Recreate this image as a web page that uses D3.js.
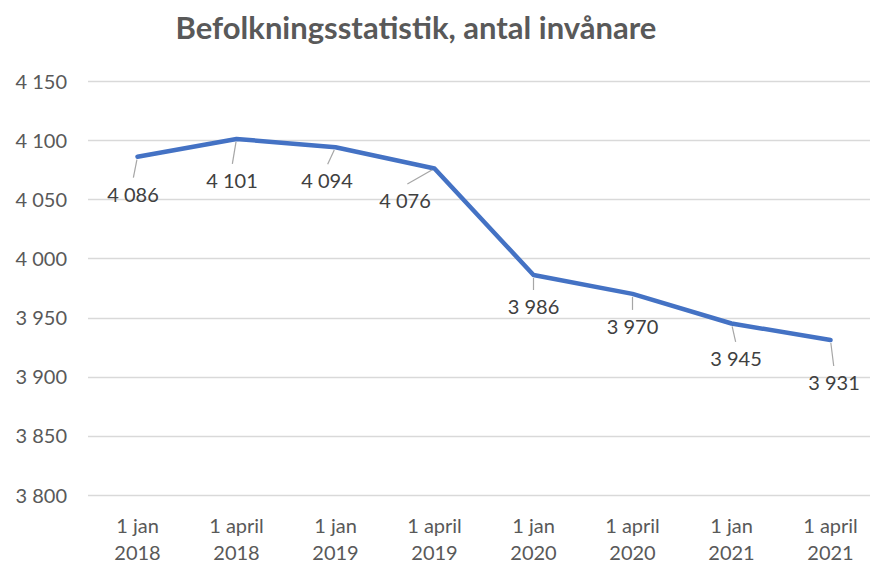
<!DOCTYPE html>
<html>
<head>
<meta charset="utf-8">
<script src="https://cdn.jsdelivr.net/npm/d3@7"></script>
<style>
  html, body { margin: 0; padding: 0; background: #fff; }
  svg { display: block; }
</style>
</head>
<body>
<svg id="chart" width="870" height="565"></svg>
<script>
// ---- data ----
const categories = [
  ["1 jan", "2018"], ["1 april", "2018"], ["1 jan", "2019"], ["1 april", "2019"],
  ["1 jan", "2020"], ["1 april", "2020"], ["1 jan", "2021"], ["1 april", "2021"]
];
const population = [4086, 4101, 4094, 4076, 3986, 3970, 3945, 3931];
const yTicks = [3800, 3850, 3900, 3950, 4000, 4050, 4100, 4150];
const titleText = "Befolkningsstatistik, antal invånare";

// ---- layout (label offsets relative to points) ----
const labelOffsets = [[-4.5, 38], [-4.5, 42], [-8.5, 34], [-29.5, 32.5], [0, 32], [0, 33], [4.5, 35.5], [3.5, 43]];

const svg = d3.select("#chart");
const font = "Lato, 'Noto Sans', sans-serif";
const fmt = v => d3.format(",")(v).replace(/,/g, " ");

const x = d3.scalePoint().domain(d3.range(categories.length)).range([88, 880]).padding(0.5);
const y = d3.scaleLinear().domain([3800, 4150]).range([495, 81]);

// title
svg.append("text")
  .attr("x", 416).attr("y", 39)
  .attr("text-anchor", "middle")
  .attr("font-family", font).attr("font-weight", "bold")
  .attr("font-size", 31).attr("fill", "#595959")
  .text(titleText);

// gridlines
svg.append("g").selectAll("line").data(yTicks).join("line")
  .attr("x1", 88).attr("x2", 870)
  .attr("y1", d => Math.round(y(d)) + 0.5).attr("y2", d => Math.round(y(d)) + 0.5)
  .attr("stroke", "#d9d9d9").attr("stroke-width", 1.3);

// y axis labels
const yAxis = d3.axisLeft(y).tickValues(yTicks).tickFormat(fmt).tickSize(0).tickPadding(0);
const gy = svg.append("g").attr("transform", "translate(67,0)").call(yAxis);
gy.select(".domain").remove();
gy.selectAll("text").attr("font-family", font).attr("font-size", 20).attr("fill", "#595959").attr("dy", "0.35em");

// x axis labels
const gx = svg.append("g");
categories.forEach((c, i) => {
  const t = gx.append("text").attr("text-anchor", "middle")
    .attr("font-family", font).attr("font-size", 20).attr("fill", "#595959");
  t.append("tspan").attr("x", x(i)).attr("y", 533).text(c[0]);
  t.append("tspan").attr("x", x(i)).attr("y", 560).text(c[1]);
});

// line
const line = d3.line().x((d, i) => x(i)).y(d => y(d));
svg.append("path").datum(population)
  .attr("d", line).attr("fill", "none")
  .attr("stroke", "#4472C4").attr("stroke-width", 4.5)
  .attr("stroke-linejoin", "round").attr("stroke-linecap", "round");

// leader lines and labels
population.forEach((v, i) => {
  const px = x(i), py = y(v);
  const lx = px + labelOffsets[i][0], ly = py + labelOffsets[i][1];
  const ex = lx + (px - lx) * 0.08, ey = ly - 17;
  const dxl = ex - px, dyl = ey - py, len = Math.hypot(dxl, dyl);
  svg.append("line")
    .attr("x1", px + dxl / len * 3).attr("y1", py + dyl / len * 3)
    .attr("x2", ex).attr("y2", ey)
    .attr("stroke", "#a6a6a6").attr("stroke-width", 1.2);
  svg.append("text").attr("x", lx).attr("y", ly).attr("dy", "0.35em")
    .attr("text-anchor", "middle")
    .attr("font-family", font).attr("font-size", 20).attr("fill", "#404040")
    .text(fmt(v));
});
</script>
</body>
</html>
